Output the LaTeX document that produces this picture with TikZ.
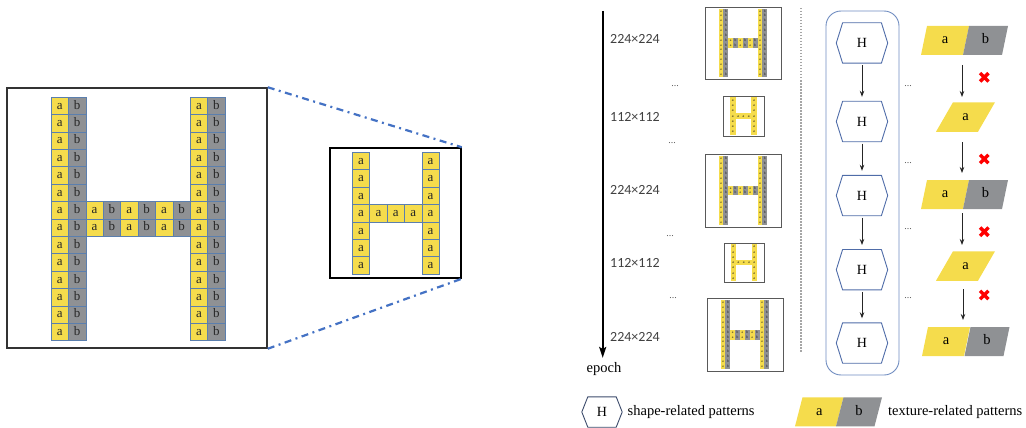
\documentclass[tikz,border=0pt]{standalone}
\usepackage{fontspec}
\setmainfont{Liberation Serif}
\newfontfamily\carl{Carlito}
\usetikzlibrary{arrows.meta,calc}
\definecolor{yel}{HTML}{F5DC4C}
\definecolor{gry}{HTML}{8F9194}
\definecolor{cellln}{HTML}{5B7FAE}
\definecolor{dashblue}{HTML}{4472C4}
\definecolor{hexblue}{HTML}{4F6CA8}
\definecolor{grpblue}{HTML}{6F8CC0}
\definecolor{navy}{HTML}{3C4B6B}
\definecolor{lblgray}{HTML}{404040}

% texture H: a/b cells, 10 x 14
\newcommand\texH[1]{%
  \foreach \rr in {0,...,13}{%
    \foreach \cc/\fc/\lt in {0/yel/a,1/gry/b,8/yel/a,9/gry/b}{%
      \node[cell,fill=\fc] (#1-\cc-\rr) at ({(\cc+0.5)*17.4},{(\rr+0.5)*17.4}) {\lt};}}%
  \foreach \rr in {6,7}{%
    \foreach \cc/\fc/\lt in {2/yel/a,3/gry/b,4/yel/a,5/gry/b,6/yel/a,7/gry/b}{%
      \node[cell,fill=\fc] (#1-\cc-\rr) at ({(\cc+0.5)*17.4},{(\rr+0.5)*17.4}) {\lt};}}%
}
% shape H: only a cells, 5 x 7
\newcommand\shapeH[1]{%
  \foreach \rr in {0,...,6}{%
    \foreach \cc in {0,4}{%
      \node[cell,fill=yel] (#1-\cc-\rr) at ({(\cc+0.5)*17.4},{(\rr+0.5)*17.4}) {a};}}%
  \foreach \cc in {1,2,3}{%
    \node[cell,fill=yel] (#1-\cc-3) at ({(\cc+0.5)*17.4},{3.5*17.4}) {a};}%
}
% hexagon: name, x, y, w, h, slant, colour, text-size
\newcommand\hexn[8]{%
  \node[inner sep=0pt, minimum width=#4, minimum height=#5, font=\fontsize{#8}{#8}\selectfont] (#1) at (#2,#3) {H};
  \draw[draw=#7, line width=0.9pt, line join=round] (#1.west) -- ([xshift=#6pt]#1.north west) -- ([xshift=-#6pt]#1.north east) -- (#1.east) -- ([xshift=-#6pt]#1.south east) -- ([xshift=#6pt]#1.south west) -- cycle;}
% parallelogram: name, cx, cy, w, h, slant, fill, letter
\newcommand\para[8]{%
  \path[fill=#7] ({#2-#4/2-#6/2},{#3+#5/2}) -- ({#2-#4/2+#6/2},{#3-#5/2}) -- ({#2+#4/2+#6/2},{#3-#5/2}) -- ({#2+#4/2-#6/2},{#3+#5/2}) -- cycle;
  \node[paratext] (#1) at (#2,#3) {#8};}

\begin{document}
\begin{tikzpicture}[x=1pt,y=-1pt,
  cell/.style={draw=cellln, line width=0.6pt, minimum size=17.4pt, inner sep=0pt,
    font=\fontsize{13}{13}\selectfont, text height=0.69em, text depth=0pt, text=black!85},
  thumbcells/.style={cell/.append style={draw=none, minimum size=17.6pt, text=black!90}},
  frame/.style={draw=black!80, line width=1.5pt, inner sep=0pt},
  thumb/.style={draw=black!65, line width=0.9pt, inner sep=0pt},
  dashdotline/.style={draw=dashblue, line width=2.2pt, dash pattern=on 7pt off 4.5pt on 2pt off 4.5pt},
  sizelbl/.style={font=\carl\fontsize{14}{14}\selectfont, text=lblgray, anchor=west, inner sep=0pt},
  dotsl/.style={font=\fontsize{10}{10}\selectfont, text=black!65, anchor=base, inner sep=0pt},
  paratext/.style={inner sep=0pt, font=\fontsize{14.5}{14.5}\selectfont, text height=0.69em, text depth=0pt},
  arr/.style={draw=black!85, line width=0.8pt, -{Stealth[length=6pt,width=4.5pt]}},
  legtext/.style={font=\fontsize{14.5}{14.5}\selectfont, anchor=west, inner sep=0pt},
  redcross/.pic={\draw[red, line width=3.4pt] (-4.2,-4.2) -- (4.2,4.2) (-4.2,4.2) -- (4.2,-4.2);}
]
\useasboundingbox (0,0) rectangle (1026,428);

% ---------- left: big texture H ----------
\node[frame, minimum width=260pt, minimum height=260pt] (bigbox) at (137,218) {};
\begin{scope}[shift={(51,97)}]
  \texH{B}
\end{scope}

% ---------- middle: shape H ----------
\node[frame, draw=black, minimum width=131pt, minimum height=130pt] (smallbox) at (395.5,213) {};
\begin{scope}[shift={(352.3,152.3)}]
  \shapeH{S}
\end{scope}

\draw[dashdotline] (bigbox.north east) -- (smallbox.north east);
\draw[dashdotline] (bigbox.south east) -- (smallbox.south east);

% ---------- epoch axis ----------
\coordinate (ep1) at (602.7,11);
\coordinate (ep2) at (602.7,358);
\draw[line width=2.2pt, -{Stealth[length=11pt,width=7pt,inset=2pt]}] (ep1) -- (ep2);
\node[font=\fontsize{14.5}{14.5}\selectfont, inner sep=0pt] (epoch) at (604,369) {epoch};

\node[sizelbl] (l1) at (610,39) {224×224};
\node[sizelbl] (l2) at (610,116.5) {112×112};
\node[sizelbl] (l3) at (610,190) {224×224};
\node[sizelbl] (l4) at (610,263) {112×112};
\node[sizelbl] (l5) at (610,337) {224×224};

\node[dotsl] (d1) at (675,86) {...};
\node[dotsl] (d2) at (672,143) {...};
\node[dotsl] (d3) at (670,236) {...};
\node[dotsl] (d4) at (673,298) {...};

% ---------- thumbnails ----------
\node[thumb, minimum width=76pt, minimum height=72pt] (f1) at (743,43) {};
\begin{scope}[shift={(718.6,8.6)}, scale=0.28, transform shape, thumbcells]\texH{T1}\end{scope}
\node[thumb, minimum width=41pt, minimum height=40pt] (f2) at (743.5,116) {};
\begin{scope}[shift={(730.2,97.4)}, scale=0.305, transform shape, thumbcells]\shapeH{T2}\end{scope}
\node[thumb, minimum width=76pt, minimum height=73pt] (f3) at (743,190.5) {};
\begin{scope}[shift={(718.6,156.4)}, scale=0.28, transform shape, thumbcells]\texH{T3}\end{scope}
\node[thumb, minimum width=40pt, minimum height=39pt] (f4) at (744,262.5) {};
\begin{scope}[shift={(730.7,244.3)}, scale=0.30, transform shape, thumbcells]\shapeH{T4}\end{scope}
\node[thumb, minimum width=76pt, minimum height=73pt] (f5) at (745,334.5) {};
\begin{scope}[shift={(720.6,300.5)}, scale=0.28, transform shape, thumbcells]\texH{T5}\end{scope}

% dotted separator
\coordinate (v1) at (801,8);
\coordinate (v2) at (801,352);
\draw[draw=black!35, line width=1.1pt, dash pattern=on 1.5pt off 1.5pt] (v1) -- (v2);

% ---------- shape column ----------
\node[draw=grpblue, line width=0.9pt, rounded corners=15pt, minimum width=73pt, minimum height=364pt, inner sep=0pt] (grp) at (862.5,193) {};
\hexn{h1}{862}{43}{51}{40}{6.3}{hexblue}{14}
\hexn{h2}{862}{121.5}{51}{40}{6.3}{hexblue}{14}
\hexn{h3}{862}{195.5}{51}{40}{6.3}{hexblue}{14}
\hexn{h4}{862}{269.7}{51}{40}{6.3}{hexblue}{14}
\hexn{h5}{862}{343}{51}{40}{6.3}{hexblue}{14}
\draw[arr, shorten <=2pt, shorten >=4.5pt] (h1.south) -- (h2.north);
\draw[arr, shorten <=2pt, shorten >=4.5pt] (h2.south) -- (h3.north);
\draw[arr, shorten <=2pt, shorten >=4.5pt] (h3.south) -- (h4.north);
\draw[arr, shorten <=2pt, shorten >=4.5pt] (h4.south) -- (h5.north);

\node[dotsl] (d5) at (908,86) {...};
\node[dotsl] (d6) at (908,163) {...};
\node[dotsl] (d7) at (908,229) {...};
\node[dotsl] (d8) at (908,298) {...};

% ---------- texture column ----------
\para{t1a}{945}{40.5}{42}{29}{6}{yel}{a}
\para{t1b}{985.5}{40.5}{39}{29}{6}{gry}{b}
\para{t2a}{965.5}{117}{42}{29.5}{17}{yel}{a}
\para{t3a}{945}{194.5}{42}{29}{6}{yel}{a}
\para{t3b}{985.5}{194.5}{39}{29}{6}{gry}{b}
\para{t4a}{965.5}{266}{42}{29.5}{17}{yel}{a}
\para{t5a}{946}{341.5}{42}{29}{6}{yel}{a}
\para{t5b}{987}{341.5}{39}{29}{6}{gry}{b}

\coordinate (a1s) at (962,65);  \coordinate (a1e) at (962,97);
\coordinate (a2s) at (962,142); \coordinate (a2e) at (962,173);
\coordinate (a3s) at (962,213); \coordinate (a3e) at (962,245);
\coordinate (a4s) at (963,289); \coordinate (a4e) at (963,320);
\draw[arr] (a1s) -- (a1e);
\draw[arr] (a2s) -- (a2e);
\draw[arr] (a3s) -- (a3e);
\draw[arr] (a4s) -- (a4e);

\coordinate (x1) at (984.3,77.3);
\coordinate (x2) at (984.3,159);
\coordinate (x3) at (984.3,231.7);
\coordinate (x4) at (984.3,295);
\pic at (x1) {redcross};
\pic at (x2) {redcross};
\pic at (x3) {redcross};
\pic at (x4) {redcross};

% ---------- legend ----------
\hexn{lh}{602}{412}{40}{30}{6}{navy}{14}
\node[legtext] (lt1) at (627.5,412) {shape-related patterns};
\para{lpa}{819.25}{411.8}{41}{29}{7.5}{yel}{a}
\para{lpb}{859}{411.8}{38.5}{29}{7.5}{gry}{b}
\node[legtext] (lt2) at (888,412) {texture-related patterns};
\end{tikzpicture}
\end{document}
